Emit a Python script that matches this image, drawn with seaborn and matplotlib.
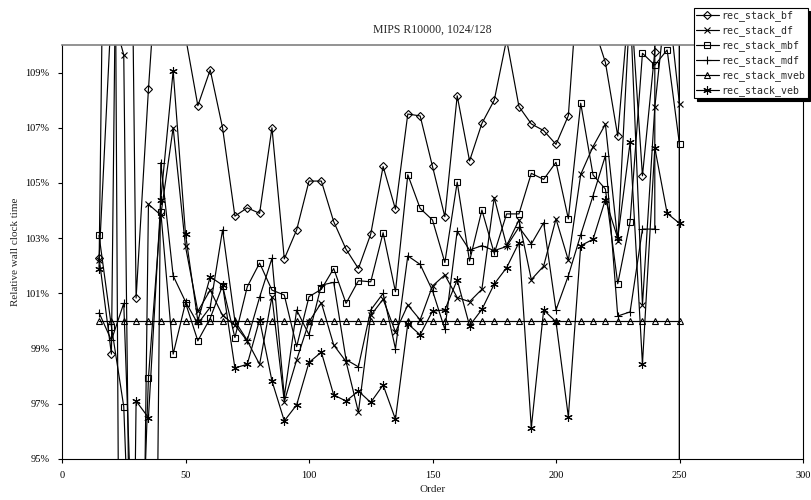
import matplotlib
matplotlib.use("Agg")
import matplotlib.pyplot as plt
import seaborn as sns
import pandas as pd
from matplotlib.ticker import FuncFormatter

order = [15, 20, 25, 30, 35, 40, 45, 50, 55, 60, 65, 70, 75, 80, 85, 90, 95, 100,
         105, 110, 115, 120, 125, 130, 135, 140, 145, 150, 155, 160, 165, 170, 175,
         180, 185, 190, 195, 200, 205, 210, 215, 220, 225, 230, 235, 240, 245, 250]

rec_stack_bf = [102.3, 98.8, 140, 100.83, 108.4, 115, 113, 110.3, 107.8, 109.1, 107.0, 103.8,
                104.1, 103.9, 107.0, 102.25, 103.3, 105.07, 105.07, 103.6, 102.6, 101.9, 103.15,
                105.6, 104.05, 107.5, 107.43, 105.6, 103.78, 108.16, 105.8, 107.16, 108.0, 110.2,
                107.77, 107.14, 106.9, 106.4, 107.44, 113.7, 110.75, 109.37, 106.7, 112, 105.26,
                109.76, 5000, 60]
rec_stack_df = [102.2, 111.3, 109.64, 70, 104.23, 103.84, 107.0, 102.7, 100.35, 101.12, 100.2,
                99.85, 99.28, 98.43, 100.88, 97.08, 98.59, 99.97, 100.66, 99.13, 98.53, 96.7,
                100.2, 100.79, 99.6, 100.58, 100.04, 101.27, 101.67, 100.85, 100.7, 101.15,
                104.47, 102.73, 103.66, 101.5, 101.99, 103.7, 102.2, 105.31, 106.32, 107.13,
                102.9, 111.5, 100.58, 107.74, 112, 107.85]
rec_stack_mbf = [103.1, 99.8, 96.9, 85, 97.95, 103.96, 98.8, 100.66, 99.28, 100.1, 101.28, 99.4,
                 101.24, 102.1, 101.12, 100.94, 99.07, 100.88, 101.15, 101.9, 100.64, 101.46,
                 101.42, 103.2, 101.06, 105.3, 104.08, 103.66, 102.12, 105.03, 102.17, 104.02,
                 102.45, 103.88, 103.88, 105.35, 105.13, 105.75, 103.7, 107.89, 105.29, 104.78,
                 101.35, 103.6, 109.7, 109.27, 109.82, 106.4]
rec_stack_mdf = [100.3, 99.3, 100.64, 88, 60, 105.74, 101.64, 100.7, 99.9, 100.5, 103.3, 100.0,
                 99.3, 100.86, 102.27, 97.26, 100.4, 99.5, 101.3, 101.4, 98.6, 98.34, 100.4,
                 101.0, 99.0, 102.36, 102.05, 101.1, 99.7, 103.26, 102.57, 102.73, 102.55, 102.7,
                 103.4, 102.79, 103.56, 100.4, 101.64, 103.12, 104.54, 105.99, 100.18, 100.33,
                 103.33, 103.33, 5000, 60]
rec_stack_mveb = [100.0] * 48
rec_stack_veb = [101.9, 138, 60, 97.1, 96.5, 104.4, 109.06, 103.15, 100.0, 101.6, 101.3, 98.3,
                 98.43, 100.05, 97.83, 96.38, 96.96, 98.5, 98.87, 97.32, 97.1, 97.46, 97.05,
                 97.68, 96.44, 99.9, 99.5, 100.36, 100.4, 101.49, 99.83, 100.42, 101.34, 101.93,
                 102.84, 96.13, 100.4, 99.97, 96.53, 102.73, 102.96, 104.4, 103.0, 106.47, 98.44,
                 106.28, 103.9, 103.54]

series_names = ["rec_stack_bf", "rec_stack_df", "rec_stack_mbf",
                "rec_stack_mdf", "rec_stack_mveb", "rec_stack_veb"]
series_vals = [rec_stack_bf, rec_stack_df, rec_stack_mbf,
               rec_stack_mdf, rec_stack_mveb, rec_stack_veb]

rows = []
for name, vals in zip(series_names, series_vals):
    for x, v in zip(order, vals):
        rows.append({"Order": x, "value": v, "series": name})
data = pd.DataFrame(rows)

sns.set_theme(style="white")
plt.rcParams["font.family"] = ["Liberation Serif", "DejaVu Serif"]

fig = plt.figure(figsize=(8.11, 5.0), dpi=100)
ax = fig.add_axes([62 / 811, 1 - 459 / 500, (803 - 62) / 811, (459 - 45) / 500])

markers = {"rec_stack_bf": "D", "rec_stack_df": "x", "rec_stack_mbf": "s",
           "rec_stack_mdf": "+", "rec_stack_mveb": "^", "rec_stack_veb": (6, 2, 0)}
msizes = {"rec_stack_bf": 3.8, "rec_stack_df": 5.0, "rec_stack_mbf": 4.6,
          "rec_stack_mdf": 6.0, "rec_stack_mveb": 4.6, "rec_stack_veb": 6.0}

for name in series_names:
    sub = data[data.series == name]
    sns.lineplot(data=sub, x="Order", y="value", ax=ax, color="black",
                 marker=markers[name], markersize=msizes[name], mfc="none",
                 mec="black", mew=0.8, linewidth=0.85, sort=False,
                 estimator=None, legend=False)

ax.set_xlim(0, 300)
ax.set_ylim(95, 110)
ax.set_xticks([0, 50, 100, 150, 200, 250, 300])
ax.set_yticks([95, 97, 99, 101, 103, 105, 107, 109])
ax.yaxis.set_major_formatter(FuncFormatter(lambda v, p: f"{v:.0f}%"))
ax.tick_params(axis="both", direction="out", length=3, width=0.8,
               labelsize=7.5, colors="black", pad=6, left=True, bottom=True)
ax.set_xlabel("Order", fontsize=8, labelpad=3)
ax.set_ylabel("Relative wall clock time", fontsize=8, labelpad=4)
ax.set_title("MIPS R10000, 1024/128", fontsize=8.5, pad=9)
for s in ["left", "bottom", "right"]:
    ax.spines[s].set_color("black")
    ax.spines[s].set_linewidth(0.8)
ax.spines["top"].set_color("#808080")
ax.spines["top"].set_linewidth(1.2)
ax.grid(False)

handles = ax.get_lines()[:len(series_names)]
leg = fig.legend(handles, series_names, loc="upper left",
                 bbox_to_anchor=(694 / 811, 1 - 8 / 500), borderaxespad=0,
                 prop={"family": "DejaVu Sans Mono", "size": 7.1},
                 handlelength=2.3, handletextpad=0.3, labelspacing=0.42,
                 borderpad=0.2, fancybox=False, framealpha=1,
                 edgecolor="black", shadow={"color": "black", "alpha": 1})
leg.get_frame().set_linewidth(0.8)

fig.savefig("out.png", dpi=100, facecolor="white")
